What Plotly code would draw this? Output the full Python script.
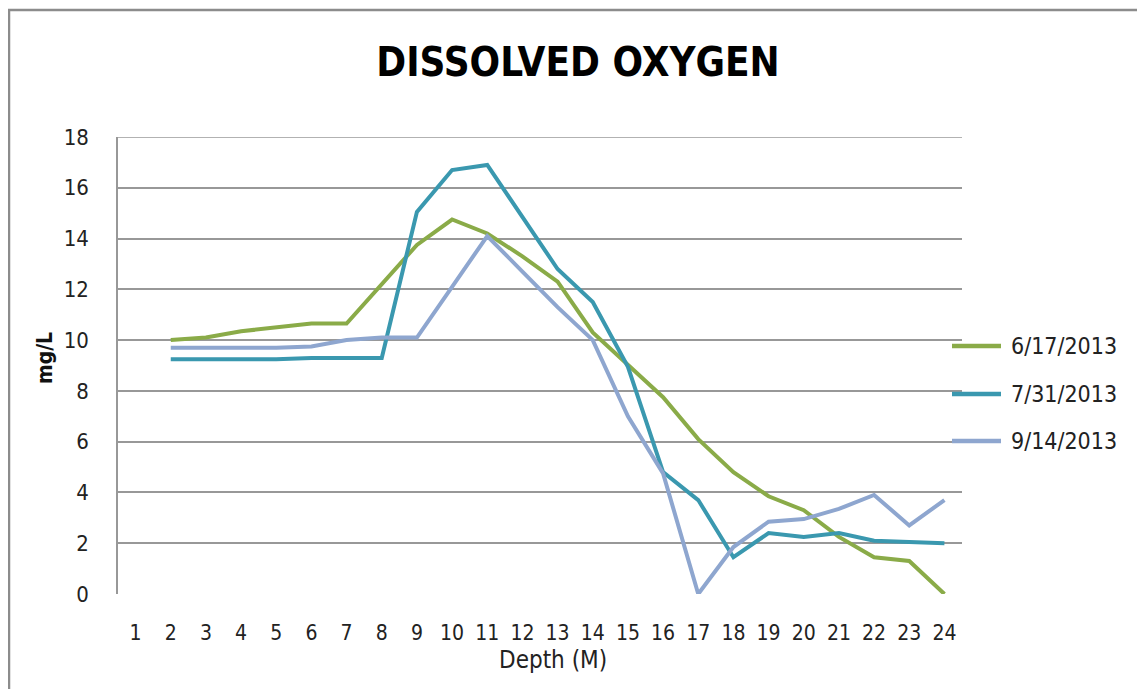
import plotly.graph_objects as go

depth = list(range(1, 25))
tick_labels = [str(d) for d in depth]
series_names = ["6/17/2013", "7/31/2013", "9/14/2013"]

do_0617 = [None, 10.0, 10.1, 10.35, 10.5, 10.65, 10.65, 12.2, 13.75, 14.75, 14.2, 13.3,
           12.3, 10.3, 9.0, 7.75, 6.1, 4.8, 3.85, 3.3, 2.25, 1.45, 1.3, 0.0]
do_0731 = [None, 9.25, 9.25, 9.25, 9.25, 9.3, 9.3, 9.3, 15.05, 16.7, 16.9, 14.85,
           12.8, 11.5, 8.95, 4.8, 3.7, 1.45, 2.4, 2.25, 2.4, 2.1, 2.05, 2.0]
do_0914 = [None, 9.7, 9.7, 9.7, 9.7, 9.75, 10.0, 10.1, 10.1, 12.1, 14.1, 12.7,
           11.3, 10.0, 7.0, 4.75, 0.0, 1.85, 2.85, 2.95, 3.35, 3.9, 2.7, 3.7]
y_max = 18

colors = ["#8AAB48", "#3A98AF", "#8EA6CF"]
FONT = "Liberation Sans Narrow, DejaVu Sans Condensed, Roboto, sans-serif"

fig = go.Figure()
for name, vals, col in zip(series_names, [do_0617, do_0731, do_0914], colors):
    fig.add_trace(go.Scatter(x=depth, y=vals, name=name, mode="lines",
                             line=dict(color=col, width=4), showlegend=False,
                             connectgaps=False))

OFF = 8  # page body margin
W, H = 1137, 681
L, T = 118 - OFF, 137 - OFF
R = W - (962 - OFF)
B = H - (594 - OFF)
pw, ph = W - L - R, H - T - B

def px2x(p):
    return (p - OFF - L) / pw

def py2y(p):
    return (H - B - (p - OFF)) / ph

fig.update_layout(
    width=W, height=H,
    margin=dict(l=L, r=R, t=T, b=B, autoexpand=False),
    paper_bgcolor="white", plot_bgcolor="white",
    font=dict(family=FONT, size=21, color="#222"),
    title=dict(text="<b>DISSOLVED OXYGEN</b>", x=(578 - OFF) / W, xanchor="center",
               y=1 - (62 - OFF) / H, yanchor="middle",
               font=dict(family=FONT, size=40, color="black")),
    xaxis=dict(range=[0.5, 24.5], tickmode="array", tickvals=depth, ticktext=tick_labels,
               showgrid=False, zeroline=False, showline=False, ticks="",
               ticklabelstandoff=24, tickfont=dict(size=21)),
    yaxis=dict(range=[0, y_max], tickvals=list(range(0, y_max + 1, 2)), showgrid=True,
               gridcolor="#989898", gridwidth=1.5,
               zeroline=False, showline=True, linecolor="#989898", linewidth=1.5,
               ticks="", ticklabelstandoff=23, tickfont=dict(size=22)),
    showlegend=False,
)

# top gridline (plotly drops the gridline at the range edge)
fig.add_shape(type="line", xref="paper", yref="y", x0=0, x1=1, y0=y_max, y1=y_max,
              line=dict(color="#989898", width=1.5), layer="below")

# axis titles
fig.add_annotation(text="Depth (M)", xref="paper", yref="paper",
                   x=px2x(553), y=py2y(660), xanchor="center", yanchor="middle",
                   showarrow=False, font=dict(size=24, color="#222"))
fig.add_annotation(text="<b>mg/L</b>", xref="paper", yref="paper", textangle=-90,
                   x=px2x(45), y=py2y(358), xanchor="center", yanchor="middle",
                   showarrow=False, font=dict(size=21, color="#111"))

# legend (drawn manually to match sample length / spacing)
legend_rows = [346, 394, 441]
for name, col, ry in zip(series_names, colors, legend_rows):
    fig.add_shape(type="line", xref="paper", yref="paper",
                  x0=px2x(952), x1=px2x(1001), y0=py2y(ry), y1=py2y(ry),
                  line=dict(color=col, width=4.5))
    fig.add_annotation(text=name, xref="paper", yref="paper",
                       x=px2x(1009), y=py2y(ry), xanchor="left", yanchor="middle",
                       showarrow=False, font=dict(size=23, color="#222"))

fig.add_shape(type="rect", xref="paper", yref="paper",
              x0=px2x(9), x1=px2x(1170), y0=py2y(10), y1=py2y(720),
              line=dict(color="#8c8c8c", width=2.5), fillcolor="rgba(0,0,0,0)", layer="below")

fig.write_html("out.html")
